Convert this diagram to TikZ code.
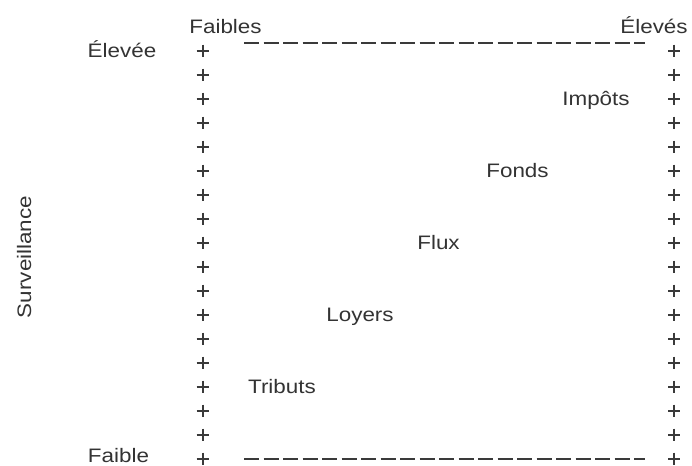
\documentclass[tikz,border=0pt]{standalone}
\usepackage{fontspec}
\setmainfont{Liberation Sans}
\newfontfamily\widefont[FakeStretch=1.15]{Liberation Sans}
\definecolor{inkgray}{HTML}{333333}
\definecolor{plusgray}{HTML}{3A3A3A}
\tikzset{
  lbl/.style={font=\widefont\fontsize{19.5}{22}\selectfont, text=inkgray, inner sep=0pt, anchor=base},
  plusmark/.style={draw=plusgray, line width=2pt},
  dashline/.style={draw=plusgray, line width=2pt, dash pattern=on 15pt off 4.5pt}
}
\begin{document}
\begin{tikzpicture}[x=1pt,y=-1pt]
\useasboundingbox (0,0) rectangle (692,465);
% plus columns
\foreach \i in {0,...,17}{
  \pgfmathsetmacro{\yy}{50.7+24*\i}
  \draw[plusmark] (196.7,\yy) -- (208.7,\yy) (202.7,\yy-6) -- (202.7,\yy+6);
  \draw[plusmark] (668.3,\yy) -- (680.3,\yy) (674.3,\yy-6) -- (674.3,\yy+6);
}
% dashed lines
\coordinate (tl) at (244,42.7);
\coordinate (tr) at (645,42.7);
\coordinate (bl) at (244,458.5);
\coordinate (br) at (645,458.5);
\draw[dashline] (tl) -- (tr);
\draw[dashline] (bl) -- (br);
% labels
\node[lbl] (faibles) at (225.5,33.3) {Faibles};
\node[lbl] (eleves) at (654,33.3) {Élevés};
\node[lbl] (elevee) at (122,57.7) {Élevée};
\node[lbl] (faible) at (118.5,462) {Faible};
\node[lbl] (impots) at (596,105.3) {Impôts};
\node[lbl] (fonds) at (517.5,177.7) {Fonds};
\node[lbl] (flux) at (438.5,249.7) {Flux};
\node[lbl] (loyers) at (360,321) {Loyers};
\node[lbl] (tributs) at (282,393.3) {Tributs};
\node[lbl, anchor=base, rotate=90] (surv) at (31,257) {Surveillance};
\end{tikzpicture}
\end{document}
